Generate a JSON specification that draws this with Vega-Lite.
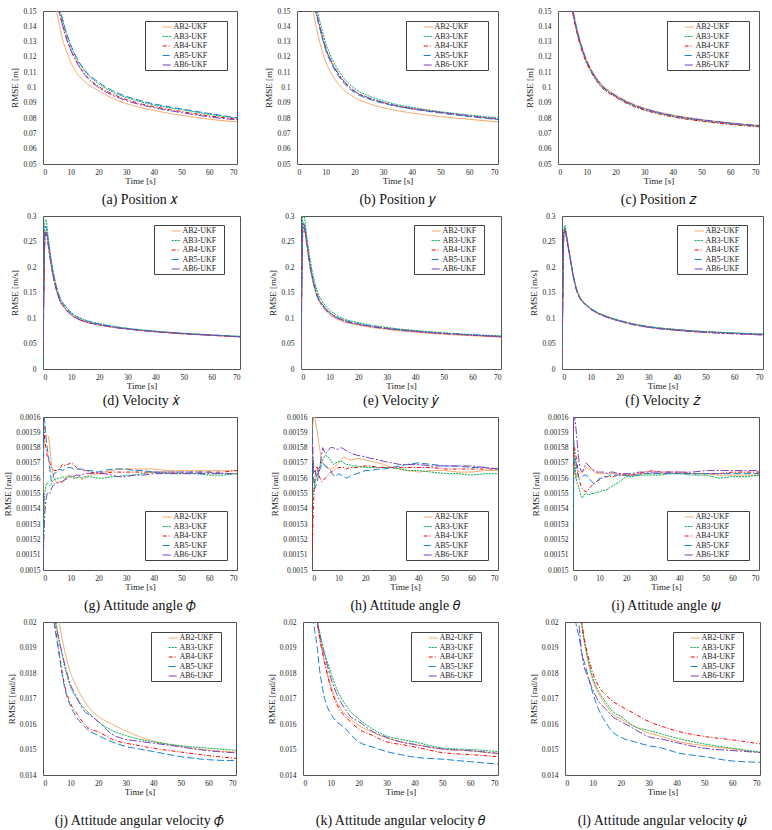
{
  "$schema": "https://vega.github.io/schema/vega-lite/v6.json",
  "padding": {"left": 3, "top": 6, "right": 2, "bottom": 0},
  "background": "white",
  "config": {
    "view": {"stroke": "#555555", "strokeWidth": 1},
    "axis": {"grid": false, "ticks": false, "domain": false, "labelFont": "Liberation Serif", "labelFontSize": 7.5, "labelColor": "#222222", "titleFont": "Liberation Serif", "titleFontSize": 9, "titleFontWeight": "normal", "titleColor": "#222222"},
    "axisX": {"labelPadding": 4, "titlePadding": 1},
    "axisY": {"labelPadding": 7, "titlePadding": 3},
    "legend": {"strokeColor": "#404040", "fillColor": "#ffffff", "padding": 1, "symbolType": "M-1,0M2.6,0L4.6,0", "symbolSize": 81, "symbolStrokeWidth": 1, "labelFont": "Liberation Serif", "labelFontSize": 8, "labelColor": "#222222", "rowPadding": 0.5, "labelOffset": 17.5, "cornerRadius": 0},
    "title": {"font": "Liberation Serif", "fontSize": 14, "fontWeight": "normal", "color": "#111111", "orient": "bottom", "frame": "group", "anchor": "middle"},
    "line": {"strokeWidth": 1}
  },
  "data": {"values": [
    {"p":"a","t":3,"AB2-UKF":0.172,"AB3-UKF":0.185,"AB4-UKF":0.18,"AB5-UKF":0.186,"AB6-UKF":0.179},
    {"p":"a","t":4,"AB2-UKF":0.16,"AB3-UKF":0.172,"AB4-UKF":0.168,"AB5-UKF":0.173,"AB6-UKF":0.167},
    {"p":"a","t":5,"AB2-UKF":0.149,"AB3-UKF":0.16,"AB4-UKF":0.157,"AB5-UKF":0.161,"AB6-UKF":0.156},
    {"p":"a","t":6,"AB2-UKF":0.14,"AB3-UKF":0.152,"AB4-UKF":0.149,"AB5-UKF":0.153,"AB6-UKF":0.148},
    {"p":"a","t":7,"AB2-UKF":0.132,"AB3-UKF":0.1445,"AB4-UKF":0.1415,"AB5-UKF":0.145,"AB6-UKF":0.141},
    {"p":"a","t":8,"AB2-UKF":0.126,"AB3-UKF":0.138,"AB4-UKF":0.135,"AB5-UKF":0.1385,"AB6-UKF":0.1345},
    {"p":"a","t":10,"AB2-UKF":0.1165,"AB3-UKF":0.1275,"AB4-UKF":0.125,"AB5-UKF":0.128,"AB6-UKF":0.1245},
    {"p":"a","t":12,"AB2-UKF":0.11,"AB3-UKF":0.1195,"AB4-UKF":0.1175,"AB5-UKF":0.12,"AB6-UKF":0.117},
    {"p":"a","t":15,"AB2-UKF":0.104,"AB3-UKF":0.111,"AB4-UKF":0.109,"AB5-UKF":0.1115,"AB6-UKF":0.1085},
    {"p":"a","t":20,"AB2-UKF":0.098,"AB3-UKF":0.1025,"AB4-UKF":0.1008,"AB5-UKF":0.1035,"AB6-UKF":0.1},
    {"p":"a","t":25,"AB2-UKF":0.093,"AB3-UKF":0.0972,"AB4-UKF":0.0958,"AB5-UKF":0.098,"AB6-UKF":0.095},
    {"p":"a","t":30,"AB2-UKF":0.0895,"AB3-UKF":0.0935,"AB4-UKF":0.0922,"AB5-UKF":0.0942,"AB6-UKF":0.0915},
    {"p":"a","t":35,"AB2-UKF":0.087,"AB3-UKF":0.0908,"AB4-UKF":0.0895,"AB5-UKF":0.0915,"AB6-UKF":0.0888},
    {"p":"a","t":40,"AB2-UKF":0.085,"AB3-UKF":0.0886,"AB4-UKF":0.0875,"AB5-UKF":0.0893,"AB6-UKF":0.0868},
    {"p":"a","t":50,"AB2-UKF":0.0818,"AB3-UKF":0.0855,"AB4-UKF":0.0843,"AB5-UKF":0.086,"AB6-UKF":0.0836},
    {"p":"a","t":60,"AB2-UKF":0.0793,"AB3-UKF":0.0825,"AB4-UKF":0.0815,"AB5-UKF":0.083,"AB6-UKF":0.0808},
    {"p":"a","t":70,"AB2-UKF":0.0775,"AB3-UKF":0.08,"AB4-UKF":0.0793,"AB5-UKF":0.0802,"AB6-UKF":0.0788},
    {"p":"b","t":3,"AB2-UKF":0.18,"AB3-UKF":0.2,"AB4-UKF":0.192,"AB5-UKF":0.191,"AB6-UKF":0.193},
    {"p":"b","t":4,"AB2-UKF":0.165,"AB3-UKF":0.185,"AB4-UKF":0.177,"AB5-UKF":0.176,"AB6-UKF":0.178},
    {"p":"b","t":5,"AB2-UKF":0.155,"AB3-UKF":0.172,"AB4-UKF":0.165,"AB5-UKF":0.164,"AB6-UKF":0.166},
    {"p":"b","t":6,"AB2-UKF":0.146,"AB3-UKF":0.161,"AB4-UKF":0.155,"AB5-UKF":0.154,"AB6-UKF":0.156},
    {"p":"b","t":7,"AB2-UKF":0.137,"AB3-UKF":0.151,"AB4-UKF":0.1465,"AB5-UKF":0.1455,"AB6-UKF":0.147},
    {"p":"b","t":8,"AB2-UKF":0.129,"AB3-UKF":0.143,"AB4-UKF":0.139,"AB5-UKF":0.138,"AB6-UKF":0.1395},
    {"p":"b","t":10,"AB2-UKF":0.117,"AB3-UKF":0.129,"AB4-UKF":0.1255,"AB5-UKF":0.1245,"AB6-UKF":0.126},
    {"p":"b","t":12,"AB2-UKF":0.109,"AB3-UKF":0.1195,"AB4-UKF":0.1165,"AB5-UKF":0.1155,"AB6-UKF":0.117},
    {"p":"b","t":15,"AB2-UKF":0.101,"AB3-UKF":0.1095,"AB4-UKF":0.107,"AB5-UKF":0.106,"AB6-UKF":0.1075},
    {"p":"b","t":20,"AB2-UKF":0.0935,"AB3-UKF":0.0995,"AB4-UKF":0.0975,"AB5-UKF":0.0968,"AB6-UKF":0.0978},
    {"p":"b","t":25,"AB2-UKF":0.0895,"AB3-UKF":0.0945,"AB4-UKF":0.093,"AB5-UKF":0.0925,"AB6-UKF":0.0933},
    {"p":"b","t":30,"AB2-UKF":0.0868,"AB3-UKF":0.0912,"AB4-UKF":0.09,"AB5-UKF":0.0897,"AB6-UKF":0.0903},
    {"p":"b","t":35,"AB2-UKF":0.0848,"AB3-UKF":0.0888,"AB4-UKF":0.0878,"AB5-UKF":0.0876,"AB6-UKF":0.088},
    {"p":"b","t":40,"AB2-UKF":0.0833,"AB3-UKF":0.087,"AB4-UKF":0.0862,"AB5-UKF":0.086,"AB6-UKF":0.0864},
    {"p":"b","t":50,"AB2-UKF":0.081,"AB3-UKF":0.0842,"AB4-UKF":0.0836,"AB5-UKF":0.0833,"AB6-UKF":0.0838},
    {"p":"b","t":60,"AB2-UKF":0.0792,"AB3-UKF":0.082,"AB4-UKF":0.0813,"AB5-UKF":0.081,"AB6-UKF":0.0815},
    {"p":"b","t":70,"AB2-UKF":0.0775,"AB3-UKF":0.0802,"AB4-UKF":0.0793,"AB5-UKF":0.079,"AB6-UKF":0.0796},
    {"p":"c","t":3,"AB2-UKF":0.182,"AB3-UKF":0.179,"AB4-UKF":0.178,"AB5-UKF":0.181,"AB6-UKF":0.18},
    {"p":"c","t":4,"AB2-UKF":0.166,"AB3-UKF":0.163,"AB4-UKF":0.162,"AB5-UKF":0.165,"AB6-UKF":0.164},
    {"p":"c","t":5,"AB2-UKF":0.154,"AB3-UKF":0.151,"AB4-UKF":0.15,"AB5-UKF":0.153,"AB6-UKF":0.152},
    {"p":"c","t":6,"AB2-UKF":0.1435,"AB3-UKF":0.1412,"AB4-UKF":0.1405,"AB5-UKF":0.143,"AB6-UKF":0.142},
    {"p":"c","t":7,"AB2-UKF":0.1355,"AB3-UKF":0.1332,"AB4-UKF":0.1325,"AB5-UKF":0.135,"AB6-UKF":0.134},
    {"p":"c","t":8,"AB2-UKF":0.129,"AB3-UKF":0.1268,"AB4-UKF":0.126,"AB5-UKF":0.1282,"AB6-UKF":0.1275},
    {"p":"c","t":10,"AB2-UKF":0.118,"AB3-UKF":0.1163,"AB4-UKF":0.1158,"AB5-UKF":0.1175,"AB6-UKF":0.117},
    {"p":"c","t":12,"AB2-UKF":0.1105,"AB3-UKF":0.1088,"AB4-UKF":0.1085,"AB5-UKF":0.11,"AB6-UKF":0.1095},
    {"p":"c","t":15,"AB2-UKF":0.1025,"AB3-UKF":0.1008,"AB4-UKF":0.1005,"AB5-UKF":0.102,"AB6-UKF":0.1015},
    {"p":"c","t":20,"AB2-UKF":0.0953,"AB3-UKF":0.094,"AB4-UKF":0.0938,"AB5-UKF":0.0948,"AB6-UKF":0.0945},
    {"p":"c","t":25,"AB2-UKF":0.0902,"AB3-UKF":0.089,"AB4-UKF":0.0888,"AB5-UKF":0.0898,"AB6-UKF":0.0895},
    {"p":"c","t":30,"AB2-UKF":0.0866,"AB3-UKF":0.0855,"AB4-UKF":0.0853,"AB5-UKF":0.0862,"AB6-UKF":0.086},
    {"p":"c","t":35,"AB2-UKF":0.084,"AB3-UKF":0.083,"AB4-UKF":0.0828,"AB5-UKF":0.0837,"AB6-UKF":0.0835},
    {"p":"c","t":40,"AB2-UKF":0.082,"AB3-UKF":0.081,"AB4-UKF":0.0808,"AB5-UKF":0.0817,"AB6-UKF":0.0815},
    {"p":"c","t":50,"AB2-UKF":0.0791,"AB3-UKF":0.0782,"AB4-UKF":0.078,"AB5-UKF":0.0789,"AB6-UKF":0.0787},
    {"p":"c","t":60,"AB2-UKF":0.0769,"AB3-UKF":0.0761,"AB4-UKF":0.0759,"AB5-UKF":0.0767,"AB6-UKF":0.0766},
    {"p":"c","t":70,"AB2-UKF":0.0753,"AB3-UKF":0.0745,"AB4-UKF":0.0743,"AB5-UKF":0.0751,"AB6-UKF":0.0749},
    {"p":"d","t":0,"AB2-UKF":0.05,"AB3-UKF":0,"AB4-UKF":0.03,"AB5-UKF":0.06,"AB6-UKF":0.04},
    {"p":"d","t":0.3,"AB2-UKF":0.16,"AB3-UKF":0.18,"AB4-UKF":0.14,"AB5-UKF":0.17,"AB6-UKF":0.13},
    {"p":"d","t":0.6,"AB2-UKF":0.255,"AB3-UKF":0.285,"AB4-UKF":0.245,"AB5-UKF":0.26,"AB6-UKF":0.24},
    {"p":"d","t":1,"AB2-UKF":0.27,"AB3-UKF":0.293,"AB4-UKF":0.272,"AB5-UKF":0.28,"AB6-UKF":0.268},
    {"p":"d","t":1.5,"AB2-UKF":0.258,"AB3-UKF":0.275,"AB4-UKF":0.26,"AB5-UKF":0.265,"AB6-UKF":0.256},
    {"p":"d","t":2,"AB2-UKF":0.238,"AB3-UKF":0.252,"AB4-UKF":0.24,"AB5-UKF":0.245,"AB6-UKF":0.236},
    {"p":"d","t":3,"AB2-UKF":0.2,"AB3-UKF":0.212,"AB4-UKF":0.203,"AB5-UKF":0.207,"AB6-UKF":0.2},
    {"p":"d","t":4,"AB2-UKF":0.172,"AB3-UKF":0.182,"AB4-UKF":0.174,"AB5-UKF":0.178,"AB6-UKF":0.172},
    {"p":"d","t":5,"AB2-UKF":0.15,"AB3-UKF":0.158,"AB4-UKF":0.151,"AB5-UKF":0.155,"AB6-UKF":0.15},
    {"p":"d","t":6,"AB2-UKF":0.134,"AB3-UKF":0.141,"AB4-UKF":0.135,"AB5-UKF":0.139,"AB6-UKF":0.134},
    {"p":"d","t":8,"AB2-UKF":0.1175,"AB3-UKF":0.1235,"AB4-UKF":0.1185,"AB5-UKF":0.1215,"AB6-UKF":0.1178},
    {"p":"d","t":10,"AB2-UKF":0.1058,"AB3-UKF":0.111,"AB4-UKF":0.1065,"AB5-UKF":0.109,"AB6-UKF":0.106},
    {"p":"d","t":12,"AB2-UKF":0.099,"AB3-UKF":0.1035,"AB4-UKF":0.0995,"AB5-UKF":0.102,"AB6-UKF":0.099},
    {"p":"d","t":15,"AB2-UKF":0.0925,"AB3-UKF":0.096,"AB4-UKF":0.093,"AB5-UKF":0.095,"AB6-UKF":0.0925},
    {"p":"d","t":20,"AB2-UKF":0.0862,"AB3-UKF":0.0892,"AB4-UKF":0.0868,"AB5-UKF":0.088,"AB6-UKF":0.0865},
    {"p":"d","t":25,"AB2-UKF":0.0815,"AB3-UKF":0.0838,"AB4-UKF":0.082,"AB5-UKF":0.083,"AB6-UKF":0.0818},
    {"p":"d","t":30,"AB2-UKF":0.0782,"AB3-UKF":0.08,"AB4-UKF":0.0786,"AB5-UKF":0.0793,"AB6-UKF":0.0784},
    {"p":"d","t":40,"AB2-UKF":0.0728,"AB3-UKF":0.0742,"AB4-UKF":0.0732,"AB5-UKF":0.0738,"AB6-UKF":0.073},
    {"p":"d","t":50,"AB2-UKF":0.0688,"AB3-UKF":0.07,"AB4-UKF":0.0692,"AB5-UKF":0.0698,"AB6-UKF":0.069},
    {"p":"d","t":60,"AB2-UKF":0.0658,"AB3-UKF":0.067,"AB4-UKF":0.0662,"AB5-UKF":0.0667,"AB6-UKF":0.066},
    {"p":"d","t":70,"AB2-UKF":0.0628,"AB3-UKF":0.064,"AB4-UKF":0.0632,"AB5-UKF":0.0637,"AB6-UKF":0.063},
    {"p":"e","t":0,"AB2-UKF":0,"AB3-UKF":0,"AB4-UKF":0,"AB5-UKF":0,"AB6-UKF":0},
    {"p":"e","t":0.3,"AB2-UKF":0.17,"AB3-UKF":0.2,"AB4-UKF":0.18,"AB5-UKF":0.19,"AB6-UKF":0.16},
    {"p":"e","t":0.6,"AB2-UKF":0.27,"AB3-UKF":0.3,"AB4-UKF":0.275,"AB5-UKF":0.28,"AB6-UKF":0.26},
    {"p":"e","t":1,"AB2-UKF":0.28,"AB3-UKF":0.302,"AB4-UKF":0.285,"AB5-UKF":0.288,"AB6-UKF":0.278},
    {"p":"e","t":1.5,"AB2-UKF":0.266,"AB3-UKF":0.285,"AB4-UKF":0.27,"AB5-UKF":0.272,"AB6-UKF":0.265},
    {"p":"e","t":2,"AB2-UKF":0.245,"AB3-UKF":0.262,"AB4-UKF":0.25,"AB5-UKF":0.251,"AB6-UKF":0.245},
    {"p":"e","t":3,"AB2-UKF":0.205,"AB3-UKF":0.222,"AB4-UKF":0.21,"AB5-UKF":0.211,"AB6-UKF":0.206},
    {"p":"e","t":4,"AB2-UKF":0.175,"AB3-UKF":0.19,"AB4-UKF":0.18,"AB5-UKF":0.181,"AB6-UKF":0.177},
    {"p":"e","t":5,"AB2-UKF":0.152,"AB3-UKF":0.166,"AB4-UKF":0.157,"AB5-UKF":0.158,"AB6-UKF":0.154},
    {"p":"e","t":6,"AB2-UKF":0.136,"AB3-UKF":0.148,"AB4-UKF":0.14,"AB5-UKF":0.141,"AB6-UKF":0.138},
    {"p":"e","t":8,"AB2-UKF":0.119,"AB3-UKF":0.1285,"AB4-UKF":0.1225,"AB5-UKF":0.1232,"AB6-UKF":0.121},
    {"p":"e","t":10,"AB2-UKF":0.107,"AB3-UKF":0.1155,"AB4-UKF":0.1105,"AB5-UKF":0.111,"AB6-UKF":0.109},
    {"p":"e","t":12,"AB2-UKF":0.0995,"AB3-UKF":0.107,"AB4-UKF":0.103,"AB5-UKF":0.1033,"AB6-UKF":0.1015},
    {"p":"e","t":15,"AB2-UKF":0.0925,"AB3-UKF":0.0985,"AB4-UKF":0.0955,"AB5-UKF":0.0958,"AB6-UKF":0.094},
    {"p":"e","t":20,"AB2-UKF":0.086,"AB3-UKF":0.091,"AB4-UKF":0.0885,"AB5-UKF":0.0888,"AB6-UKF":0.0875},
    {"p":"e","t":25,"AB2-UKF":0.0812,"AB3-UKF":0.0855,"AB4-UKF":0.0835,"AB5-UKF":0.0838,"AB6-UKF":0.0826},
    {"p":"e","t":30,"AB2-UKF":0.0778,"AB3-UKF":0.0815,"AB4-UKF":0.0798,"AB5-UKF":0.08,"AB6-UKF":0.079},
    {"p":"e","t":40,"AB2-UKF":0.0722,"AB3-UKF":0.0755,"AB4-UKF":0.074,"AB5-UKF":0.0743,"AB6-UKF":0.0735},
    {"p":"e","t":50,"AB2-UKF":0.0682,"AB3-UKF":0.071,"AB4-UKF":0.0698,"AB5-UKF":0.0702,"AB6-UKF":0.0694},
    {"p":"e","t":60,"AB2-UKF":0.0652,"AB3-UKF":0.0675,"AB4-UKF":0.0665,"AB5-UKF":0.0668,"AB6-UKF":0.0662},
    {"p":"e","t":70,"AB2-UKF":0.0622,"AB3-UKF":0.0648,"AB4-UKF":0.0638,"AB5-UKF":0.064,"AB6-UKF":0.0633},
    {"p":"f","t":0,"AB2-UKF":0,"AB3-UKF":0,"AB4-UKF":0,"AB5-UKF":0,"AB6-UKF":0},
    {"p":"f","t":0.3,"AB2-UKF":0.15,"AB3-UKF":0.16,"AB4-UKF":0.145,"AB5-UKF":0.152,"AB6-UKF":0.14},
    {"p":"f","t":0.6,"AB2-UKF":0.262,"AB3-UKF":0.268,"AB4-UKF":0.258,"AB5-UKF":0.262,"AB6-UKF":0.255},
    {"p":"f","t":1,"AB2-UKF":0.276,"AB3-UKF":0.282,"AB4-UKF":0.274,"AB5-UKF":0.277,"AB6-UKF":0.273},
    {"p":"f","t":1.5,"AB2-UKF":0.263,"AB3-UKF":0.267,"AB4-UKF":0.261,"AB5-UKF":0.263,"AB6-UKF":0.26},
    {"p":"f","t":2,"AB2-UKF":0.246,"AB3-UKF":0.249,"AB4-UKF":0.244,"AB5-UKF":0.246,"AB6-UKF":0.243},
    {"p":"f","t":3,"AB2-UKF":0.213,"AB3-UKF":0.215,"AB4-UKF":0.211,"AB5-UKF":0.213,"AB6-UKF":0.21},
    {"p":"f","t":4,"AB2-UKF":0.181,"AB3-UKF":0.183,"AB4-UKF":0.179,"AB5-UKF":0.181,"AB6-UKF":0.178},
    {"p":"f","t":5,"AB2-UKF":0.158,"AB3-UKF":0.159,"AB4-UKF":0.156,"AB5-UKF":0.157,"AB6-UKF":0.155},
    {"p":"f","t":6,"AB2-UKF":0.143,"AB3-UKF":0.144,"AB4-UKF":0.1415,"AB5-UKF":0.142,"AB6-UKF":0.141},
    {"p":"f","t":8,"AB2-UKF":0.1283,"AB3-UKF":0.1285,"AB4-UKF":0.127,"AB5-UKF":0.1278,"AB6-UKF":0.1268},
    {"p":"f","t":10,"AB2-UKF":0.1188,"AB3-UKF":0.119,"AB4-UKF":0.1175,"AB5-UKF":0.1183,"AB6-UKF":0.1172},
    {"p":"f","t":12,"AB2-UKF":0.1118,"AB3-UKF":0.112,"AB4-UKF":0.1105,"AB5-UKF":0.1113,"AB6-UKF":0.1102},
    {"p":"f","t":15,"AB2-UKF":0.1043,"AB3-UKF":0.1045,"AB4-UKF":0.103,"AB5-UKF":0.1038,"AB6-UKF":0.1027},
    {"p":"f","t":20,"AB2-UKF":0.0953,"AB3-UKF":0.0955,"AB4-UKF":0.094,"AB5-UKF":0.0948,"AB6-UKF":0.0937},
    {"p":"f","t":25,"AB2-UKF":0.0883,"AB3-UKF":0.0885,"AB4-UKF":0.087,"AB5-UKF":0.0878,"AB6-UKF":0.0867},
    {"p":"f","t":30,"AB2-UKF":0.0833,"AB3-UKF":0.0835,"AB4-UKF":0.082,"AB5-UKF":0.0828,"AB6-UKF":0.0817},
    {"p":"f","t":40,"AB2-UKF":0.0773,"AB3-UKF":0.0775,"AB4-UKF":0.076,"AB5-UKF":0.0768,"AB6-UKF":0.0757},
    {"p":"f","t":50,"AB2-UKF":0.0733,"AB3-UKF":0.0735,"AB4-UKF":0.072,"AB5-UKF":0.0728,"AB6-UKF":0.0717},
    {"p":"f","t":60,"AB2-UKF":0.0706,"AB3-UKF":0.0708,"AB4-UKF":0.0693,"AB5-UKF":0.0701,"AB6-UKF":0.069},
    {"p":"f","t":70,"AB2-UKF":0.0683,"AB3-UKF":0.0685,"AB4-UKF":0.067,"AB5-UKF":0.0678,"AB6-UKF":0.0667},
    {"p":"g","t":0,"AB2-UKF":0.00155,"AB3-UKF":0.00151,"AB4-UKF":0.0016,"AB5-UKF":0.00156,"AB6-UKF":0.0015},
    {"p":"g","t":0.3,"AB2-UKF":0.00158,"AB3-UKF":0.001535,"AB4-UKF":0.001595,"AB5-UKF":0.0016,"AB6-UKF":0.00152},
    {"p":"g","t":0.6,"AB2-UKF":0.001586,"AB3-UKF":0.00155,"AB4-UKF":0.001585,"AB5-UKF":0.001598,"AB6-UKF":0.001535},
    {"p":"g","t":1,"AB2-UKF":0.001588,"AB3-UKF":0.001555,"AB4-UKF":0.00158,"AB5-UKF":0.001588,"AB6-UKF":0.001545},
    {"p":"g","t":1.5,"AB2-UKF":0.001588,"AB3-UKF":0.001557,"AB4-UKF":0.001575,"AB5-UKF":0.00158,"AB6-UKF":0.00155},
    {"p":"g","t":2,"AB2-UKF":0.001587,"AB3-UKF":0.001556,"AB4-UKF":0.001572,"AB5-UKF":0.001574,"AB6-UKF":0.001551},
    {"p":"g","t":2.5,"AB2-UKF":0.00158,"AB3-UKF":0.001555,"AB4-UKF":0.00157,"AB5-UKF":0.001566,"AB6-UKF":0.00155},
    {"p":"g","t":3,"AB2-UKF":0.00157,"AB3-UKF":0.001556,"AB4-UKF":0.001567,"AB5-UKF":0.001558,"AB6-UKF":0.001553},
    {"p":"g","t":3.5,"AB2-UKF":0.001563,"AB3-UKF":0.001558,"AB4-UKF":0.001566,"AB5-UKF":0.00156,"AB6-UKF":0.001555},
    {"p":"g","t":4,"AB2-UKF":0.00156,"AB3-UKF":0.001559,"AB4-UKF":0.001565,"AB5-UKF":0.001563,"AB6-UKF":0.001556},
    {"p":"g","t":5,"AB2-UKF":0.001557,"AB3-UKF":0.00156,"AB4-UKF":0.001565,"AB5-UKF":0.001564,"AB6-UKF":0.001557},
    {"p":"g","t":6,"AB2-UKF":0.001558,"AB3-UKF":0.00156,"AB4-UKF":0.001566,"AB5-UKF":0.001566,"AB6-UKF":0.001557},
    {"p":"g","t":7,"AB2-UKF":0.001557,"AB3-UKF":0.001561,"AB4-UKF":0.001569,"AB5-UKF":0.001565,"AB6-UKF":0.001558},
    {"p":"g","t":8,"AB2-UKF":0.00156,"AB3-UKF":0.00156,"AB4-UKF":0.001568,"AB5-UKF":0.001566,"AB6-UKF":0.001559},
    {"p":"g","t":9,"AB2-UKF":0.001562,"AB3-UKF":0.001561,"AB4-UKF":0.001569,"AB5-UKF":0.001567,"AB6-UKF":0.00156},
    {"p":"g","t":10,"AB2-UKF":0.001562,"AB3-UKF":0.001561,"AB4-UKF":0.00157,"AB5-UKF":0.001567,"AB6-UKF":0.001561},
    {"p":"g","t":11,"AB2-UKF":0.001561,"AB3-UKF":0.00156,"AB4-UKF":0.001569,"AB5-UKF":0.001566,"AB6-UKF":0.001561},
    {"p":"g","t":12,"AB2-UKF":0.00156,"AB3-UKF":0.00156,"AB4-UKF":0.001567,"AB5-UKF":0.001566,"AB6-UKF":0.001562},
    {"p":"g","t":13,"AB2-UKF":0.001561,"AB3-UKF":0.001561,"AB4-UKF":0.001566,"AB5-UKF":0.001566,"AB6-UKF":0.001562},
    {"p":"g","t":14,"AB2-UKF":0.001559,"AB3-UKF":0.00156,"AB4-UKF":0.001566,"AB5-UKF":0.001566,"AB6-UKF":0.001562},
    {"p":"g","t":15,"AB2-UKF":0.00156,"AB3-UKF":0.001561,"AB4-UKF":0.001565,"AB5-UKF":0.001565,"AB6-UKF":0.001563},
    {"p":"g","t":17,"AB2-UKF":0.001562,"AB3-UKF":0.001561,"AB4-UKF":0.001564,"AB5-UKF":0.001565,"AB6-UKF":0.001563},
    {"p":"g","t":20,"AB2-UKF":0.001563,"AB3-UKF":0.00156,"AB4-UKF":0.001563,"AB5-UKF":0.001564,"AB6-UKF":0.001564},
    {"p":"g","t":22,"AB2-UKF":0.001564,"AB3-UKF":0.00156,"AB4-UKF":0.001563,"AB5-UKF":0.001565,"AB6-UKF":0.001563},
    {"p":"g","t":25,"AB2-UKF":0.001565,"AB3-UKF":0.001561,"AB4-UKF":0.001564,"AB5-UKF":0.001566,"AB6-UKF":0.001562},
    {"p":"g","t":27,"AB2-UKF":0.001566,"AB3-UKF":0.001561,"AB4-UKF":0.001564,"AB5-UKF":0.001566,"AB6-UKF":0.001561},
    {"p":"g","t":30,"AB2-UKF":0.001566,"AB3-UKF":0.001562,"AB4-UKF":0.001564,"AB5-UKF":0.001566,"AB6-UKF":0.001561},
    {"p":"g","t":33,"AB2-UKF":0.001566,"AB3-UKF":0.001562,"AB4-UKF":0.001564,"AB5-UKF":0.001565,"AB6-UKF":0.001562},
    {"p":"g","t":36,"AB2-UKF":0.001566,"AB3-UKF":0.001563,"AB4-UKF":0.001564,"AB5-UKF":0.001565,"AB6-UKF":0.001562},
    {"p":"g","t":40,"AB2-UKF":0.001566,"AB3-UKF":0.001564,"AB4-UKF":0.001564,"AB5-UKF":0.001564,"AB6-UKF":0.001563},
    {"p":"g","t":45,"AB2-UKF":0.001565,"AB3-UKF":0.001563,"AB4-UKF":0.001564,"AB5-UKF":0.001564,"AB6-UKF":0.001563},
    {"p":"g","t":50,"AB2-UKF":0.001565,"AB3-UKF":0.001563,"AB4-UKF":0.001564,"AB5-UKF":0.001564,"AB6-UKF":0.001563},
    {"p":"g","t":55,"AB2-UKF":0.001565,"AB3-UKF":0.001563,"AB4-UKF":0.001564,"AB5-UKF":0.001564,"AB6-UKF":0.001563},
    {"p":"g","t":60,"AB2-UKF":0.001565,"AB3-UKF":0.001562,"AB4-UKF":0.001564,"AB5-UKF":0.001564,"AB6-UKF":0.001563},
    {"p":"g","t":65,"AB2-UKF":0.001565,"AB3-UKF":0.001562,"AB4-UKF":0.001564,"AB5-UKF":0.001563,"AB6-UKF":0.001563},
    {"p":"g","t":70,"AB2-UKF":0.001565,"AB3-UKF":0.001563,"AB4-UKF":0.001565,"AB5-UKF":0.001563,"AB6-UKF":0.001563},
    {"p":"h","t":0,"AB2-UKF":0.00157,"AB3-UKF":0.001545,"AB4-UKF":0.00151,"AB5-UKF":0.0016,"AB6-UKF":0.00159},
    {"p":"h","t":0.3,"AB2-UKF":0.001595,"AB3-UKF":0.001548,"AB4-UKF":0.001525,"AB5-UKF":0.00158,"AB6-UKF":0.001575},
    {"p":"h","t":0.6,"AB2-UKF":0.0016,"AB3-UKF":0.001552,"AB4-UKF":0.001545,"AB5-UKF":0.00156,"AB6-UKF":0.001566},
    {"p":"h","t":1,"AB2-UKF":0.0016,"AB3-UKF":0.001555,"AB4-UKF":0.001558,"AB5-UKF":0.001553,"AB6-UKF":0.001564},
    {"p":"h","t":1.5,"AB2-UKF":0.001595,"AB3-UKF":0.00156,"AB4-UKF":0.001566,"AB5-UKF":0.001555,"AB6-UKF":0.001562},
    {"p":"h","t":2,"AB2-UKF":0.00159,"AB3-UKF":0.001564,"AB4-UKF":0.001568,"AB5-UKF":0.001558,"AB6-UKF":0.001562},
    {"p":"h","t":2.5,"AB2-UKF":0.001584,"AB3-UKF":0.001566,"AB4-UKF":0.001563,"AB5-UKF":0.001563,"AB6-UKF":0.001564},
    {"p":"h","t":3,"AB2-UKF":0.001578,"AB3-UKF":0.001568,"AB4-UKF":0.00156,"AB5-UKF":0.001566,"AB6-UKF":0.001568},
    {"p":"h","t":3.5,"AB2-UKF":0.001572,"AB3-UKF":0.00157,"AB4-UKF":0.001558,"AB5-UKF":0.001568,"AB6-UKF":0.001574},
    {"p":"h","t":4,"AB2-UKF":0.00157,"AB3-UKF":0.001572,"AB4-UKF":0.001558,"AB5-UKF":0.00157,"AB6-UKF":0.00158},
    {"p":"h","t":5,"AB2-UKF":0.001568,"AB3-UKF":0.001575,"AB4-UKF":0.00156,"AB5-UKF":0.001568,"AB6-UKF":0.001576},
    {"p":"h","t":6,"AB2-UKF":0.001566,"AB3-UKF":0.001574,"AB4-UKF":0.001562,"AB5-UKF":0.001567,"AB6-UKF":0.001578},
    {"p":"h","t":7,"AB2-UKF":0.001566,"AB3-UKF":0.001572,"AB4-UKF":0.001564,"AB5-UKF":0.001565,"AB6-UKF":0.00158},
    {"p":"h","t":8,"AB2-UKF":0.001567,"AB3-UKF":0.001569,"AB4-UKF":0.001565,"AB5-UKF":0.001562,"AB6-UKF":0.00158},
    {"p":"h","t":9,"AB2-UKF":0.001568,"AB3-UKF":0.00157,"AB4-UKF":0.001566,"AB5-UKF":0.001561,"AB6-UKF":0.001579},
    {"p":"h","t":10,"AB2-UKF":0.00157,"AB3-UKF":0.001571,"AB4-UKF":0.001567,"AB5-UKF":0.001563,"AB6-UKF":0.001579},
    {"p":"h","t":11,"AB2-UKF":0.001572,"AB3-UKF":0.001571,"AB4-UKF":0.001567,"AB5-UKF":0.001562,"AB6-UKF":0.00158},
    {"p":"h","t":12,"AB2-UKF":0.001574,"AB3-UKF":0.00157,"AB4-UKF":0.001567,"AB5-UKF":0.001561,"AB6-UKF":0.001579},
    {"p":"h","t":13,"AB2-UKF":0.001573,"AB3-UKF":0.001569,"AB4-UKF":0.001566,"AB5-UKF":0.00156,"AB6-UKF":0.001578},
    {"p":"h","t":14,"AB2-UKF":0.001572,"AB3-UKF":0.001569,"AB4-UKF":0.001567,"AB5-UKF":0.001561,"AB6-UKF":0.001577},
    {"p":"h","t":15,"AB2-UKF":0.001572,"AB3-UKF":0.001568,"AB4-UKF":0.001567,"AB5-UKF":0.001562,"AB6-UKF":0.001576},
    {"p":"h","t":17,"AB2-UKF":0.001573,"AB3-UKF":0.001568,"AB4-UKF":0.001567,"AB5-UKF":0.001563,"AB6-UKF":0.001575},
    {"p":"h","t":20,"AB2-UKF":0.001572,"AB3-UKF":0.001567,"AB4-UKF":0.001568,"AB5-UKF":0.001565,"AB6-UKF":0.001574},
    {"p":"h","t":22,"AB2-UKF":0.001571,"AB3-UKF":0.001567,"AB4-UKF":0.001568,"AB5-UKF":0.001565,"AB6-UKF":0.001573},
    {"p":"h","t":25,"AB2-UKF":0.00157,"AB3-UKF":0.001567,"AB4-UKF":0.001567,"AB5-UKF":0.001566,"AB6-UKF":0.001572},
    {"p":"h","t":27,"AB2-UKF":0.001569,"AB3-UKF":0.001567,"AB4-UKF":0.001567,"AB5-UKF":0.001566,"AB6-UKF":0.001571},
    {"p":"h","t":30,"AB2-UKF":0.001567,"AB3-UKF":0.001567,"AB4-UKF":0.001567,"AB5-UKF":0.001567,"AB6-UKF":0.00157},
    {"p":"h","t":33,"AB2-UKF":0.001566,"AB3-UKF":0.001566,"AB4-UKF":0.001567,"AB5-UKF":0.001568,"AB6-UKF":0.001569},
    {"p":"h","t":36,"AB2-UKF":0.001565,"AB3-UKF":0.001565,"AB4-UKF":0.001567,"AB5-UKF":0.001569,"AB6-UKF":0.001569},
    {"p":"h","t":40,"AB2-UKF":0.001564,"AB3-UKF":0.001565,"AB4-UKF":0.001567,"AB5-UKF":0.00157,"AB6-UKF":0.001569},
    {"p":"h","t":45,"AB2-UKF":0.001565,"AB3-UKF":0.001564,"AB4-UKF":0.001567,"AB5-UKF":0.001569,"AB6-UKF":0.001568},
    {"p":"h","t":50,"AB2-UKF":0.001565,"AB3-UKF":0.001563,"AB4-UKF":0.001566,"AB5-UKF":0.001568,"AB6-UKF":0.001568},
    {"p":"h","t":55,"AB2-UKF":0.001564,"AB3-UKF":0.001563,"AB4-UKF":0.001566,"AB5-UKF":0.001568,"AB6-UKF":0.001568},
    {"p":"h","t":60,"AB2-UKF":0.001564,"AB3-UKF":0.001562,"AB4-UKF":0.001566,"AB5-UKF":0.001567,"AB6-UKF":0.001568},
    {"p":"h","t":65,"AB2-UKF":0.001565,"AB3-UKF":0.001563,"AB4-UKF":0.001566,"AB5-UKF":0.001567,"AB6-UKF":0.001567},
    {"p":"h","t":70,"AB2-UKF":0.001565,"AB3-UKF":0.001563,"AB4-UKF":0.001566,"AB5-UKF":0.001566,"AB6-UKF":0.001566},
    {"p":"i","t":0,"AB2-UKF":0.001555,"AB3-UKF":0.00154,"AB4-UKF":0.00155,"AB5-UKF":0.00153,"AB6-UKF":0.00157},
    {"p":"i","t":0.3,"AB2-UKF":0.001575,"AB3-UKF":0.001585,"AB4-UKF":0.001578,"AB5-UKF":0.00156,"AB6-UKF":0.0016},
    {"p":"i","t":0.6,"AB2-UKF":0.00157,"AB3-UKF":0.001575,"AB4-UKF":0.00158,"AB5-UKF":0.00157,"AB6-UKF":0.0016},
    {"p":"i","t":1,"AB2-UKF":0.00156,"AB3-UKF":0.001562,"AB4-UKF":0.001576,"AB5-UKF":0.001573,"AB6-UKF":0.001595},
    {"p":"i","t":1.5,"AB2-UKF":0.001563,"AB3-UKF":0.001557,"AB4-UKF":0.00157,"AB5-UKF":0.001566,"AB6-UKF":0.001585},
    {"p":"i","t":2,"AB2-UKF":0.001565,"AB3-UKF":0.001555,"AB4-UKF":0.001562,"AB5-UKF":0.001561,"AB6-UKF":0.001575},
    {"p":"i","t":2.5,"AB2-UKF":0.001564,"AB3-UKF":0.001552,"AB4-UKF":0.001558,"AB5-UKF":0.00156,"AB6-UKF":0.001568},
    {"p":"i","t":3,"AB2-UKF":0.001563,"AB3-UKF":0.001548,"AB4-UKF":0.001555,"AB5-UKF":0.00156,"AB6-UKF":0.001565},
    {"p":"i","t":3.5,"AB2-UKF":0.001564,"AB3-UKF":0.001547,"AB4-UKF":0.001553,"AB5-UKF":0.001561,"AB6-UKF":0.001564},
    {"p":"i","t":4,"AB2-UKF":0.001565,"AB3-UKF":0.001549,"AB4-UKF":0.001552,"AB5-UKF":0.001562,"AB6-UKF":0.001566},
    {"p":"i","t":5,"AB2-UKF":0.001567,"AB3-UKF":0.00155,"AB4-UKF":0.001551,"AB5-UKF":0.001562,"AB6-UKF":0.00157},
    {"p":"i","t":6,"AB2-UKF":0.001566,"AB3-UKF":0.001549,"AB4-UKF":0.001553,"AB5-UKF":0.00156,"AB6-UKF":0.001568},
    {"p":"i","t":7,"AB2-UKF":0.001566,"AB3-UKF":0.00155,"AB4-UKF":0.001555,"AB5-UKF":0.001558,"AB6-UKF":0.001566},
    {"p":"i","t":8,"AB2-UKF":0.001564,"AB3-UKF":0.00155,"AB4-UKF":0.001557,"AB5-UKF":0.001556,"AB6-UKF":0.001565},
    {"p":"i","t":9,"AB2-UKF":0.001563,"AB3-UKF":0.001551,"AB4-UKF":0.001558,"AB5-UKF":0.001558,"AB6-UKF":0.001564},
    {"p":"i","t":10,"AB2-UKF":0.001563,"AB3-UKF":0.001551,"AB4-UKF":0.001559,"AB5-UKF":0.00156,"AB6-UKF":0.001564},
    {"p":"i","t":11,"AB2-UKF":0.001563,"AB3-UKF":0.001552,"AB4-UKF":0.00156,"AB5-UKF":0.00156,"AB6-UKF":0.001564},
    {"p":"i","t":12,"AB2-UKF":0.001563,"AB3-UKF":0.001552,"AB4-UKF":0.001561,"AB5-UKF":0.001561,"AB6-UKF":0.001564},
    {"p":"i","t":13,"AB2-UKF":0.001563,"AB3-UKF":0.001553,"AB4-UKF":0.001561,"AB5-UKF":0.001561,"AB6-UKF":0.001563},
    {"p":"i","t":14,"AB2-UKF":0.001563,"AB3-UKF":0.001554,"AB4-UKF":0.001561,"AB5-UKF":0.001562,"AB6-UKF":0.001564},
    {"p":"i","t":15,"AB2-UKF":0.001563,"AB3-UKF":0.001555,"AB4-UKF":0.001561,"AB5-UKF":0.001562,"AB6-UKF":0.001564},
    {"p":"i","t":17,"AB2-UKF":0.001563,"AB3-UKF":0.001557,"AB4-UKF":0.001562,"AB5-UKF":0.001562,"AB6-UKF":0.001563},
    {"p":"i","t":20,"AB2-UKF":0.001562,"AB3-UKF":0.001561,"AB4-UKF":0.001562,"AB5-UKF":0.001562,"AB6-UKF":0.001563},
    {"p":"i","t":22,"AB2-UKF":0.001562,"AB3-UKF":0.001561,"AB4-UKF":0.001562,"AB5-UKF":0.001562,"AB6-UKF":0.001563},
    {"p":"i","t":25,"AB2-UKF":0.001563,"AB3-UKF":0.001562,"AB4-UKF":0.001563,"AB5-UKF":0.001562,"AB6-UKF":0.001564},
    {"p":"i","t":27,"AB2-UKF":0.001563,"AB3-UKF":0.001562,"AB4-UKF":0.001564,"AB5-UKF":0.001563,"AB6-UKF":0.001564},
    {"p":"i","t":30,"AB2-UKF":0.001563,"AB3-UKF":0.001562,"AB4-UKF":0.001565,"AB5-UKF":0.001563,"AB6-UKF":0.001564},
    {"p":"i","t":33,"AB2-UKF":0.001563,"AB3-UKF":0.001562,"AB4-UKF":0.001564,"AB5-UKF":0.001563,"AB6-UKF":0.001564},
    {"p":"i","t":36,"AB2-UKF":0.001563,"AB3-UKF":0.001563,"AB4-UKF":0.001564,"AB5-UKF":0.001563,"AB6-UKF":0.001564},
    {"p":"i","t":40,"AB2-UKF":0.001563,"AB3-UKF":0.001563,"AB4-UKF":0.001564,"AB5-UKF":0.001563,"AB6-UKF":0.001564},
    {"p":"i","t":45,"AB2-UKF":0.001563,"AB3-UKF":0.001562,"AB4-UKF":0.001563,"AB5-UKF":0.001563,"AB6-UKF":0.001564},
    {"p":"i","t":50,"AB2-UKF":0.001563,"AB3-UKF":0.001562,"AB4-UKF":0.001563,"AB5-UKF":0.001563,"AB6-UKF":0.001565},
    {"p":"i","t":55,"AB2-UKF":0.001562,"AB3-UKF":0.00156,"AB4-UKF":0.001563,"AB5-UKF":0.001563,"AB6-UKF":0.001565},
    {"p":"i","t":60,"AB2-UKF":0.001562,"AB3-UKF":0.001561,"AB4-UKF":0.001564,"AB5-UKF":0.001563,"AB6-UKF":0.001565},
    {"p":"i","t":65,"AB2-UKF":0.001562,"AB3-UKF":0.001561,"AB4-UKF":0.001564,"AB5-UKF":0.001563,"AB6-UKF":0.001565},
    {"p":"i","t":70,"AB2-UKF":0.001562,"AB3-UKF":0.001562,"AB4-UKF":0.001564,"AB5-UKF":0.001563,"AB6-UKF":0.001565},
    {"p":"j","t":3,"AB2-UKF":0.0225,"AB3-UKF":0.0215,"AB4-UKF":0.0213,"AB5-UKF":0.0212,"AB6-UKF":0.0213},
    {"p":"j","t":4,"AB2-UKF":0.0215,"AB3-UKF":0.0206,"AB4-UKF":0.0201,"AB5-UKF":0.02,"AB6-UKF":0.0202},
    {"p":"j","t":5,"AB2-UKF":0.0206,"AB3-UKF":0.0198,"AB4-UKF":0.0194,"AB5-UKF":0.0193,"AB6-UKF":0.0197},
    {"p":"j","t":6,"AB2-UKF":0.0199,"AB3-UKF":0.0192,"AB4-UKF":0.0187,"AB5-UKF":0.0186,"AB6-UKF":0.0192},
    {"p":"j","t":7,"AB2-UKF":0.0193,"AB3-UKF":0.0187,"AB4-UKF":0.018,"AB5-UKF":0.0179,"AB6-UKF":0.01875},
    {"p":"j","t":8,"AB2-UKF":0.0188,"AB3-UKF":0.0182,"AB4-UKF":0.01745,"AB5-UKF":0.01735,"AB6-UKF":0.0183},
    {"p":"j","t":10,"AB2-UKF":0.018,"AB3-UKF":0.01745,"AB4-UKF":0.0168,"AB5-UKF":0.0167,"AB6-UKF":0.01755},
    {"p":"j","t":12,"AB2-UKF":0.0175,"AB3-UKF":0.01705,"AB4-UKF":0.01645,"AB5-UKF":0.0163,"AB6-UKF":0.0171},
    {"p":"j","t":15,"AB2-UKF":0.0169,"AB3-UKF":0.0166,"AB4-UKF":0.016,"AB5-UKF":0.0159,"AB6-UKF":0.0165},
    {"p":"j","t":17,"AB2-UKF":0.0166,"AB3-UKF":0.0164,"AB4-UKF":0.0158,"AB5-UKF":0.01572,"AB6-UKF":0.01635},
    {"p":"j","t":20,"AB2-UKF":0.0163,"AB3-UKF":0.0161,"AB4-UKF":0.0157,"AB5-UKF":0.01555,"AB6-UKF":0.0161},
    {"p":"j","t":25,"AB2-UKF":0.016,"AB3-UKF":0.01575,"AB4-UKF":0.0154,"AB5-UKF":0.0153,"AB6-UKF":0.0156},
    {"p":"j","t":30,"AB2-UKF":0.01573,"AB3-UKF":0.01555,"AB4-UKF":0.01525,"AB5-UKF":0.01512,"AB6-UKF":0.0154},
    {"p":"j","t":35,"AB2-UKF":0.0155,"AB3-UKF":0.0154,"AB4-UKF":0.01515,"AB5-UKF":0.01502,"AB6-UKF":0.01532},
    {"p":"j","t":40,"AB2-UKF":0.01533,"AB3-UKF":0.0153,"AB4-UKF":0.01505,"AB5-UKF":0.01492,"AB6-UKF":0.01525},
    {"p":"j","t":50,"AB2-UKF":0.01512,"AB3-UKF":0.01515,"AB4-UKF":0.0149,"AB5-UKF":0.01472,"AB6-UKF":0.0151},
    {"p":"j","t":60,"AB2-UKF":0.01498,"AB3-UKF":0.01505,"AB4-UKF":0.01476,"AB5-UKF":0.0146,"AB6-UKF":0.01495},
    {"p":"j","t":70,"AB2-UKF":0.0149,"AB3-UKF":0.01497,"AB4-UKF":0.01465,"AB5-UKF":0.01456,"AB6-UKF":0.01487},
    {"p":"k","t":3,"AB2-UKF":0.0215,"AB3-UKF":0.0217,"AB4-UKF":0.0216,"AB5-UKF":0.0206,"AB6-UKF":0.0217},
    {"p":"k","t":4,"AB2-UKF":0.0207,"AB3-UKF":0.0209,"AB4-UKF":0.0208,"AB5-UKF":0.0198,"AB6-UKF":0.0209},
    {"p":"k","t":5,"AB2-UKF":0.02,"AB3-UKF":0.0201,"AB4-UKF":0.0201,"AB5-UKF":0.0191,"AB6-UKF":0.0201},
    {"p":"k","t":6,"AB2-UKF":0.0193,"AB3-UKF":0.0196,"AB4-UKF":0.0194,"AB5-UKF":0.0181,"AB6-UKF":0.0195},
    {"p":"k","t":7,"AB2-UKF":0.0188,"AB3-UKF":0.0191,"AB4-UKF":0.0188,"AB5-UKF":0.0174,"AB6-UKF":0.019},
    {"p":"k","t":8,"AB2-UKF":0.0183,"AB3-UKF":0.0187,"AB4-UKF":0.0183,"AB5-UKF":0.0169,"AB6-UKF":0.0186},
    {"p":"k","t":10,"AB2-UKF":0.0175,"AB3-UKF":0.018,"AB4-UKF":0.0174,"AB5-UKF":0.0164,"AB6-UKF":0.0178},
    {"p":"k","t":12,"AB2-UKF":0.0169,"AB3-UKF":0.0174,"AB4-UKF":0.0168,"AB5-UKF":0.0161,"AB6-UKF":0.0172},
    {"p":"k","t":15,"AB2-UKF":0.0164,"AB3-UKF":0.0168,"AB4-UKF":0.0163,"AB5-UKF":0.01585,"AB6-UKF":0.0166},
    {"p":"k","t":17,"AB2-UKF":0.0162,"AB3-UKF":0.0165,"AB4-UKF":0.0161,"AB5-UKF":0.0156,"AB6-UKF":0.0163},
    {"p":"k","t":20,"AB2-UKF":0.01595,"AB3-UKF":0.0162,"AB4-UKF":0.0158,"AB5-UKF":0.0153,"AB6-UKF":0.0161},
    {"p":"k","t":25,"AB2-UKF":0.01568,"AB3-UKF":0.0158,"AB4-UKF":0.01555,"AB5-UKF":0.0151,"AB6-UKF":0.0157},
    {"p":"k","t":30,"AB2-UKF":0.01545,"AB3-UKF":0.01553,"AB4-UKF":0.0153,"AB5-UKF":0.01492,"AB6-UKF":0.01548},
    {"p":"k","t":35,"AB2-UKF":0.0153,"AB3-UKF":0.0154,"AB4-UKF":0.0152,"AB5-UKF":0.0148,"AB6-UKF":0.0153},
    {"p":"k","t":40,"AB2-UKF":0.0152,"AB3-UKF":0.0153,"AB4-UKF":0.0151,"AB5-UKF":0.0147,"AB6-UKF":0.0152},
    {"p":"k","t":50,"AB2-UKF":0.01502,"AB3-UKF":0.01506,"AB4-UKF":0.01488,"AB5-UKF":0.01462,"AB6-UKF":0.01502},
    {"p":"k","t":60,"AB2-UKF":0.01495,"AB3-UKF":0.015,"AB4-UKF":0.0148,"AB5-UKF":0.01452,"AB6-UKF":0.01495},
    {"p":"k","t":70,"AB2-UKF":0.01483,"AB3-UKF":0.01492,"AB4-UKF":0.01472,"AB5-UKF":0.01443,"AB6-UKF":0.01485},
    {"p":"l","t":3,"AB2-UKF":0.0224,"AB3-UKF":0.0224,"AB4-UKF":0.0225,"AB5-UKF":0.0205,"AB6-UKF":0.0215},
    {"p":"l","t":4,"AB2-UKF":0.0213,"AB3-UKF":0.0213,"AB4-UKF":0.0214,"AB5-UKF":0.0199,"AB6-UKF":0.0207},
    {"p":"l","t":5,"AB2-UKF":0.0205,"AB3-UKF":0.0205,"AB4-UKF":0.0206,"AB5-UKF":0.01944,"AB6-UKF":0.0199},
    {"p":"l","t":6,"AB2-UKF":0.0199,"AB3-UKF":0.0199,"AB4-UKF":0.02,"AB5-UKF":0.0188,"AB6-UKF":0.0188},
    {"p":"l","t":7,"AB2-UKF":0.0192,"AB3-UKF":0.0192,"AB4-UKF":0.0193,"AB5-UKF":0.0184,"AB6-UKF":0.0182},
    {"p":"l","t":8,"AB2-UKF":0.0186,"AB3-UKF":0.0187,"AB4-UKF":0.0188,"AB5-UKF":0.018,"AB6-UKF":0.0179},
    {"p":"l","t":10,"AB2-UKF":0.0177,"AB3-UKF":0.0178,"AB4-UKF":0.018,"AB5-UKF":0.0172,"AB6-UKF":0.01734},
    {"p":"l","t":12,"AB2-UKF":0.0172,"AB3-UKF":0.0173,"AB4-UKF":0.0175,"AB5-UKF":0.0166,"AB6-UKF":0.0169},
    {"p":"l","t":15,"AB2-UKF":0.0167,"AB3-UKF":0.0168,"AB4-UKF":0.0171,"AB5-UKF":0.016,"AB6-UKF":0.01655},
    {"p":"l","t":17,"AB2-UKF":0.0164,"AB3-UKF":0.0165,"AB4-UKF":0.0169,"AB5-UKF":0.0157,"AB6-UKF":0.0163},
    {"p":"l","t":20,"AB2-UKF":0.0162,"AB3-UKF":0.0163,"AB4-UKF":0.0167,"AB5-UKF":0.01548,"AB6-UKF":0.0161},
    {"p":"l","t":25,"AB2-UKF":0.0159,"AB3-UKF":0.0159,"AB4-UKF":0.0164,"AB5-UKF":0.0153,"AB6-UKF":0.0158},
    {"p":"l","t":30,"AB2-UKF":0.01565,"AB3-UKF":0.01575,"AB4-UKF":0.0161,"AB5-UKF":0.01515,"AB6-UKF":0.0155},
    {"p":"l","t":35,"AB2-UKF":0.0155,"AB3-UKF":0.0156,"AB4-UKF":0.0159,"AB5-UKF":0.01505,"AB6-UKF":0.0154},
    {"p":"l","t":40,"AB2-UKF":0.01533,"AB3-UKF":0.01545,"AB4-UKF":0.01573,"AB5-UKF":0.01488,"AB6-UKF":0.01527},
    {"p":"l","t":50,"AB2-UKF":0.01515,"AB3-UKF":0.01522,"AB4-UKF":0.01551,"AB5-UKF":0.01472,"AB6-UKF":0.01505},
    {"p":"l","t":60,"AB2-UKF":0.01502,"AB3-UKF":0.01505,"AB4-UKF":0.01538,"AB5-UKF":0.01455,"AB6-UKF":0.01496},
    {"p":"l","t":70,"AB2-UKF":0.01488,"AB3-UKF":0.0149,"AB4-UKF":0.01522,"AB5-UKF":0.0145,"AB6-UKF":0.01488}
  ]},
  "resolve": {"scale": {"color": "independent", "strokeDash": "independent"}, "legend": {"color": "independent", "strokeDash": "independent"}},
  "spacing": 4,
  "vconcat": [
    {
      "bounds": "flush",
      "spacing": 60,
      "resolve": {"scale": {"color": "independent", "strokeDash": "independent"}, "legend": {"color": "independent", "strokeDash": "independent"}},
      "hconcat": [
        {
          "width": 194, "height": 153,
          "title": {"text": "(a) Position 𝑥", "offset": 7},
          "transform": [{"filter": "datum.p == 'a'"}, {"fold": ["AB2-UKF", "AB3-UKF", "AB4-UKF", "AB5-UKF", "AB6-UKF"], "as": ["s", "v"]}],
          "mark": {"type": "line", "interpolate": "monotone", "clip": true},
          "encoding": {
            "x": {"field": "t", "type": "quantitative", "scale": {"domain": [0, 70], "nice": false}, "axis": {"values": [0, 10, 20, 30, 40, 50, 60, 70], "title": "Time [s]"}},
            "y": {"field": "v", "type": "quantitative", "scale": {"domain": [0.05, 0.15], "nice": false, "zero": false}, "axis": {"values": [0.05, 0.06, 0.07, 0.08, 0.09, 0.1, 0.11, 0.12, 0.13, 0.14, 0.15], "format": "~f", "title": "RMSE [m]"}},
            "color": {"field": "s", "type": "nominal", "scale": {"domain": ["AB2-UKF", "AB3-UKF", "AB4-UKF", "AB5-UKF", "AB6-UKF"], "range": ["#F5A25D", "#00B050", "#FF0000", "#1A7FD4", "#7B3FBF"]}, "legend": {"title": null, "orient": "top-right", "offset": 10, "labelExpr": "datum.label + '\u2800\u2800\u2800'"}},
            "strokeDash": {"field": "s", "type": "nominal", "scale": {"domain": ["AB2-UKF", "AB3-UKF", "AB4-UKF", "AB5-UKF", "AB6-UKF"], "range": [[1, 0], [2, 1], [4, 2, 1, 2], [7, 3], [8, 2, 2, 2]]}, "legend": {"title": null, "orient": "top-right", "offset": 10, "labelExpr": "datum.label + '\u2800\u2800\u2800'"}}
          }
        },
        {
          "width": 201, "height": 153,
          "title": {"text": "(b) Position 𝑦", "offset": 7},
          "transform": [{"filter": "datum.p == 'b'"}, {"fold": ["AB2-UKF", "AB3-UKF", "AB4-UKF", "AB5-UKF", "AB6-UKF"], "as": ["s", "v"]}],
          "mark": {"type": "line", "interpolate": "monotone", "clip": true},
          "encoding": {
            "x": {"field": "t", "type": "quantitative", "scale": {"domain": [0, 70], "nice": false}, "axis": {"values": [0, 10, 20, 30, 40, 50, 60, 70], "title": "Time [s]"}},
            "y": {"field": "v", "type": "quantitative", "scale": {"domain": [0.05, 0.15], "nice": false, "zero": false}, "axis": {"values": [0.05, 0.06, 0.07, 0.08, 0.09, 0.1, 0.11, 0.12, 0.13, 0.14, 0.15], "format": "~f", "title": "RMSE [m]"}},
            "color": {"field": "s", "type": "nominal", "scale": {"domain": ["AB2-UKF", "AB3-UKF", "AB4-UKF", "AB5-UKF", "AB6-UKF"], "range": ["#F5A25D", "#00B050", "#FF0000", "#1A7FD4", "#7B3FBF"]}, "legend": {"title": null, "orient": "top-right", "offset": 10, "labelExpr": "datum.label + '\u2800\u2800\u2800'"}},
            "strokeDash": {"field": "s", "type": "nominal", "scale": {"domain": ["AB2-UKF", "AB3-UKF", "AB4-UKF", "AB5-UKF", "AB6-UKF"], "range": [[1, 0], [2, 1], [4, 2, 1, 2], [7, 3], [8, 2, 2, 2]]}, "legend": {"title": null, "orient": "top-right", "offset": 10, "labelExpr": "datum.label + '\u2800\u2800\u2800'"}}
          }
        },
        {
          "width": 201, "height": 153,
          "title": {"text": "(c) Position 𝑧", "offset": 7},
          "transform": [{"filter": "datum.p == 'c'"}, {"fold": ["AB2-UKF", "AB3-UKF", "AB4-UKF", "AB5-UKF", "AB6-UKF"], "as": ["s", "v"]}],
          "mark": {"type": "line", "interpolate": "monotone", "clip": true},
          "encoding": {
            "x": {"field": "t", "type": "quantitative", "scale": {"domain": [0, 70], "nice": false}, "axis": {"values": [0, 10, 20, 30, 40, 50, 60, 70], "title": "Time [s]"}},
            "y": {"field": "v", "type": "quantitative", "scale": {"domain": [0.05, 0.15], "nice": false, "zero": false}, "axis": {"values": [0.05, 0.06, 0.07, 0.08, 0.09, 0.1, 0.11, 0.12, 0.13, 0.14, 0.15], "format": "~f", "title": "RMSE [m]"}},
            "color": {"field": "s", "type": "nominal", "scale": {"domain": ["AB2-UKF", "AB3-UKF", "AB4-UKF", "AB5-UKF", "AB6-UKF"], "range": ["#F5A25D", "#00B050", "#FF0000", "#1A7FD4", "#7B3FBF"]}, "legend": {"title": null, "orient": "top-right", "offset": 10, "labelExpr": "datum.label + '\u2800\u2800\u2800'"}},
            "strokeDash": {"field": "s", "type": "nominal", "scale": {"domain": ["AB2-UKF", "AB3-UKF", "AB4-UKF", "AB5-UKF", "AB6-UKF"], "range": [[1, 0], [2, 1], [4, 2, 1, 2], [7, 3], [8, 2, 2, 2]]}, "legend": {"title": null, "orient": "top-right", "offset": 10, "labelExpr": "datum.label + '\u2800\u2800\u2800'"}}
          }
        }
      ]
    },
    {
      "bounds": "flush",
      "spacing": 61,
      "resolve": {"scale": {"color": "independent", "strokeDash": "independent"}, "legend": {"color": "independent", "strokeDash": "independent"}},
      "hconcat": [
        {
          "width": 197, "height": 153,
          "title": {"text": "(d) Velocity 𝑥̇", "offset": 3},
          "transform": [{"filter": "datum.p == 'd'"}, {"fold": ["AB2-UKF", "AB3-UKF", "AB4-UKF", "AB5-UKF", "AB6-UKF"], "as": ["s", "v"]}],
          "mark": {"type": "line", "interpolate": "monotone", "clip": true},
          "encoding": {
            "x": {"field": "t", "type": "quantitative", "scale": {"domain": [0, 70], "nice": false}, "axis": {"values": [0, 10, 20, 30, 40, 50, 60, 70], "title": "Time [s]"}},
            "y": {"field": "v", "type": "quantitative", "scale": {"domain": [0, 0.3], "nice": false, "zero": false}, "axis": {"values": [0, 0.05, 0.1, 0.15, 0.2, 0.25, 0.3], "format": "~f", "title": "RMSE [m/s]"}},
            "color": {"field": "s", "type": "nominal", "scale": {"domain": ["AB2-UKF", "AB3-UKF", "AB4-UKF", "AB5-UKF", "AB6-UKF"], "range": ["#F5A25D", "#00B050", "#FF0000", "#1A7FD4", "#7B3FBF"]}, "legend": {"title": null, "orient": "none", "legendX": 111, "legendY": 9, "labelExpr": "datum.label + '\u2800'"}},
            "strokeDash": {"field": "s", "type": "nominal", "scale": {"domain": ["AB2-UKF", "AB3-UKF", "AB4-UKF", "AB5-UKF", "AB6-UKF"], "range": [[1, 0], [2, 1], [4, 2, 1, 2], [7, 3], [8, 2, 2, 2]]}, "legend": {"title": null, "orient": "none", "legendX": 111, "legendY": 9, "labelExpr": "datum.label + '\u2800'"}}
          }
        },
        {
          "width": 200, "height": 153,
          "title": {"text": "(e) Velocity 𝑦̇", "offset": 3},
          "transform": [{"filter": "datum.p == 'e'"}, {"fold": ["AB2-UKF", "AB3-UKF", "AB4-UKF", "AB5-UKF", "AB6-UKF"], "as": ["s", "v"]}],
          "mark": {"type": "line", "interpolate": "monotone", "clip": true},
          "encoding": {
            "x": {"field": "t", "type": "quantitative", "scale": {"domain": [0, 70], "nice": false}, "axis": {"values": [0, 10, 20, 30, 40, 50, 60, 70], "title": "Time [s]"}},
            "y": {"field": "v", "type": "quantitative", "scale": {"domain": [0, 0.3], "nice": false, "zero": false}, "axis": {"values": [0, 0.05, 0.1, 0.15, 0.2, 0.25, 0.3], "format": "~f", "title": "RMSE [m/s]"}},
            "color": {"field": "s", "type": "nominal", "scale": {"domain": ["AB2-UKF", "AB3-UKF", "AB4-UKF", "AB5-UKF", "AB6-UKF"], "range": ["#F5A25D", "#00B050", "#FF0000", "#1A7FD4", "#7B3FBF"]}, "legend": {"title": null, "orient": "none", "legendX": 113, "legendY": 9, "labelExpr": "datum.label + '\u2800'"}},
            "strokeDash": {"field": "s", "type": "nominal", "scale": {"domain": ["AB2-UKF", "AB3-UKF", "AB4-UKF", "AB5-UKF", "AB6-UKF"], "range": [[1, 0], [2, 1], [4, 2, 1, 2], [7, 3], [8, 2, 2, 2]]}, "legend": {"title": null, "orient": "none", "legendX": 113, "legendY": 9, "labelExpr": "datum.label + '\u2800'"}}
          }
        },
        {
          "width": 201, "height": 153,
          "title": {"text": "(f) Velocity 𝑧̇", "offset": 3},
          "transform": [{"filter": "datum.p == 'f'"}, {"fold": ["AB2-UKF", "AB3-UKF", "AB4-UKF", "AB5-UKF", "AB6-UKF"], "as": ["s", "v"]}],
          "mark": {"type": "line", "interpolate": "monotone", "clip": true},
          "encoding": {
            "x": {"field": "t", "type": "quantitative", "scale": {"domain": [0, 70], "nice": false}, "axis": {"values": [0, 10, 20, 30, 40, 50, 60, 70], "title": "Time [s]"}},
            "y": {"field": "v", "type": "quantitative", "scale": {"domain": [0, 0.3], "nice": false, "zero": false}, "axis": {"values": [0, 0.05, 0.1, 0.15, 0.2, 0.25, 0.3], "format": "~f", "title": "RMSE [m/s]"}},
            "color": {"field": "s", "type": "nominal", "scale": {"domain": ["AB2-UKF", "AB3-UKF", "AB4-UKF", "AB5-UKF", "AB6-UKF"], "range": ["#F5A25D", "#00B050", "#FF0000", "#1A7FD4", "#7B3FBF"]}, "legend": {"title": null, "orient": "none", "legendX": 115, "legendY": 9, "labelExpr": "datum.label + '\u2800'"}},
            "strokeDash": {"field": "s", "type": "nominal", "scale": {"domain": ["AB2-UKF", "AB3-UKF", "AB4-UKF", "AB5-UKF", "AB6-UKF"], "range": [[1, 0], [2, 1], [4, 2, 1, 2], [7, 3], [8, 2, 2, 2]]}, "legend": {"title": null, "orient": "none", "legendX": 115, "legendY": 9, "labelExpr": "datum.label + '\u2800'"}}
          }
        }
      ]
    },
    {
      "bounds": "flush",
      "spacing": 75,
      "resolve": {"scale": {"color": "independent", "strokeDash": "independent"}, "legend": {"color": "independent", "strokeDash": "independent"}},
      "hconcat": [
        {
          "width": 194, "height": 153,
          "title": {"text": "(g) Attitude angle 𝜙", "offset": 7},
          "transform": [{"filter": "datum.p == 'g'"}, {"fold": ["AB2-UKF", "AB3-UKF", "AB4-UKF", "AB5-UKF", "AB6-UKF"], "as": ["s", "v"]}],
          "mark": {"type": "line", "interpolate": "linear", "clip": true},
          "encoding": {
            "x": {"field": "t", "type": "quantitative", "scale": {"domain": [0, 70], "nice": false}, "axis": {"values": [0, 10, 20, 30, 40, 50, 60, 70], "title": "Time [s]"}},
            "y": {"field": "v", "type": "quantitative", "scale": {"domain": [0.0015, 0.0016], "nice": false, "zero": false}, "axis": {"values": [0.0015, 0.00151, 0.00152, 0.00153, 0.00154, 0.00155, 0.00156, 0.00157, 0.00158, 0.00159, 0.0016], "format": "~f", "title": "RMSE [rad]", "labelPadding": 3}},
            "color": {"field": "s", "type": "nominal", "scale": {"domain": ["AB2-UKF", "AB3-UKF", "AB4-UKF", "AB5-UKF", "AB6-UKF"], "range": ["#F5A25D", "#00B050", "#FF0000", "#1A7FD4", "#7B3FBF"]}, "legend": {"title": null, "orient": "bottom-right", "offset": 10, "labelExpr": "datum.label + '\u2800\u2800\u2800'"}},
            "strokeDash": {"field": "s", "type": "nominal", "scale": {"domain": ["AB2-UKF", "AB3-UKF", "AB4-UKF", "AB5-UKF", "AB6-UKF"], "range": [[1, 0], [2, 1], [4, 2, 1, 2], [7, 3], [8, 2, 2, 2]]}, "legend": {"title": null, "orient": "bottom-right", "offset": 10, "labelExpr": "datum.label + '\u2800\u2800\u2800'"}}
          }
        },
        {
          "width": 186, "height": 153,
          "title": {"text": "(h) Attitude angle 𝜃", "offset": 7},
          "transform": [{"filter": "datum.p == 'h'"}, {"fold": ["AB2-UKF", "AB3-UKF", "AB4-UKF", "AB5-UKF", "AB6-UKF"], "as": ["s", "v"]}],
          "mark": {"type": "line", "interpolate": "linear", "clip": true},
          "encoding": {
            "x": {"field": "t", "type": "quantitative", "scale": {"domain": [0, 70], "nice": false}, "axis": {"values": [0, 10, 20, 30, 40, 50, 60, 70], "title": "Time [s]"}},
            "y": {"field": "v", "type": "quantitative", "scale": {"domain": [0.0015, 0.0016], "nice": false, "zero": false}, "axis": {"values": [0.0015, 0.00151, 0.00152, 0.00153, 0.00154, 0.00155, 0.00156, 0.00157, 0.00158, 0.00159, 0.0016], "format": "~f", "title": "RMSE [rad]", "labelPadding": 5}},
            "color": {"field": "s", "type": "nominal", "scale": {"domain": ["AB2-UKF", "AB3-UKF", "AB4-UKF", "AB5-UKF", "AB6-UKF"], "range": ["#F5A25D", "#00B050", "#FF0000", "#1A7FD4", "#7B3FBF"]}, "legend": {"title": null, "orient": "bottom-right", "offset": 10, "labelExpr": "datum.label + '\u2800\u2800\u2800'"}},
            "strokeDash": {"field": "s", "type": "nominal", "scale": {"domain": ["AB2-UKF", "AB3-UKF", "AB4-UKF", "AB5-UKF", "AB6-UKF"], "range": [[1, 0], [2, 1], [4, 2, 1, 2], [7, 3], [8, 2, 2, 2]]}, "legend": {"title": null, "orient": "bottom-right", "offset": 10, "labelExpr": "datum.label + '\u2800\u2800\u2800'"}}
          }
        },
        {
          "width": 186, "height": 153,
          "title": {"text": "(i) Attitude angle 𝜓", "offset": 7},
          "transform": [{"filter": "datum.p == 'i'"}, {"fold": ["AB2-UKF", "AB3-UKF", "AB4-UKF", "AB5-UKF", "AB6-UKF"], "as": ["s", "v"]}],
          "mark": {"type": "line", "interpolate": "linear", "clip": true},
          "encoding": {
            "x": {"field": "t", "type": "quantitative", "scale": {"domain": [0, 70], "nice": false}, "axis": {"values": [0, 10, 20, 30, 40, 50, 60, 70], "title": "Time [s]"}},
            "y": {"field": "v", "type": "quantitative", "scale": {"domain": [0.0015, 0.0016], "nice": false, "zero": false}, "axis": {"values": [0.0015, 0.00151, 0.00152, 0.00153, 0.00154, 0.00155, 0.00156, 0.00157, 0.00158, 0.00159, 0.0016], "format": "~f", "title": "RMSE [rad]", "labelPadding": 5}},
            "color": {"field": "s", "type": "nominal", "scale": {"domain": ["AB2-UKF", "AB3-UKF", "AB4-UKF", "AB5-UKF", "AB6-UKF"], "range": ["#F5A25D", "#00B050", "#FF0000", "#1A7FD4", "#7B3FBF"]}, "legend": {"title": null, "orient": "bottom-right", "offset": 10, "labelExpr": "datum.label + '\u2800\u2800\u2800'"}},
            "strokeDash": {"field": "s", "type": "nominal", "scale": {"domain": ["AB2-UKF", "AB3-UKF", "AB4-UKF", "AB5-UKF", "AB6-UKF"], "range": [[1, 0], [2, 1], [4, 2, 1, 2], [7, 3], [8, 2, 2, 2]]}, "legend": {"title": null, "orient": "bottom-right", "offset": 10, "labelExpr": "datum.label + '\u2800\u2800\u2800'"}}
          }
        }
      ]
    },
    {
      "bounds": "flush",
      "spacing": 67,
      "resolve": {"scale": {"color": "independent", "strokeDash": "independent"}, "legend": {"color": "independent", "strokeDash": "independent"}},
      "hconcat": [
        {
          "width": 193, "height": 153,
          "title": {"text": "(j) Attitude angular velocity 𝜙̇", "offset": 17},
          "transform": [{"filter": "datum.p == 'j'"}, {"fold": ["AB2-UKF", "AB3-UKF", "AB4-UKF", "AB5-UKF", "AB6-UKF"], "as": ["s", "v"]}],
          "mark": {"type": "line", "interpolate": "monotone", "clip": true},
          "encoding": {
            "x": {"field": "t", "type": "quantitative", "scale": {"domain": [0, 70], "nice": false}, "axis": {"values": [0, 10, 20, 30, 40, 50, 60, 70], "title": "Time [s]"}},
            "y": {"field": "v", "type": "quantitative", "scale": {"domain": [0.014, 0.02], "nice": false, "zero": false}, "axis": {"values": [0.014, 0.015, 0.016, 0.017, 0.018, 0.019, 0.02], "format": "~f", "title": "RMSE [rad/s]"}},
            "color": {"field": "s", "type": "nominal", "scale": {"domain": ["AB2-UKF", "AB3-UKF", "AB4-UKF", "AB5-UKF", "AB6-UKF"], "range": ["#F5A25D", "#00B050", "#FF0000", "#1A7FD4", "#7B3FBF"]}, "legend": {"title": null, "orient": "none", "legendX": 108, "legendY": 10, "labelExpr": "datum.label + '\u2800'"}},
            "strokeDash": {"field": "s", "type": "nominal", "scale": {"domain": ["AB2-UKF", "AB3-UKF", "AB4-UKF", "AB5-UKF", "AB6-UKF"], "range": [[1, 0], [2, 1], [4, 2, 1, 2], [7, 3], [8, 2, 2, 2]]}, "legend": {"title": null, "orient": "none", "legendX": 108, "legendY": 10, "labelExpr": "datum.label + '\u2800'"}}
          }
        },
        {
          "width": 195, "height": 153,
          "title": {"text": "(k) Attitude angular velocity 𝜃̇", "offset": 17},
          "transform": [{"filter": "datum.p == 'k'"}, {"fold": ["AB2-UKF", "AB3-UKF", "AB4-UKF", "AB5-UKF", "AB6-UKF"], "as": ["s", "v"]}],
          "mark": {"type": "line", "interpolate": "monotone", "clip": true},
          "encoding": {
            "x": {"field": "t", "type": "quantitative", "scale": {"domain": [0, 70], "nice": false}, "axis": {"values": [0, 10, 20, 30, 40, 50, 60, 70], "title": "Time [s]"}},
            "y": {"field": "v", "type": "quantitative", "scale": {"domain": [0.014, 0.02], "nice": false, "zero": false}, "axis": {"values": [0.014, 0.015, 0.016, 0.017, 0.018, 0.019, 0.02], "format": "~f", "title": "RMSE [rad/s]"}},
            "color": {"field": "s", "type": "nominal", "scale": {"domain": ["AB2-UKF", "AB3-UKF", "AB4-UKF", "AB5-UKF", "AB6-UKF"], "range": ["#F5A25D", "#00B050", "#FF0000", "#1A7FD4", "#7B3FBF"]}, "legend": {"title": null, "orient": "none", "legendX": 108, "legendY": 10, "labelExpr": "datum.label + '\u2800'"}},
            "strokeDash": {"field": "s", "type": "nominal", "scale": {"domain": ["AB2-UKF", "AB3-UKF", "AB4-UKF", "AB5-UKF", "AB6-UKF"], "range": [[1, 0], [2, 1], [4, 2, 1, 2], [7, 3], [8, 2, 2, 2]]}, "legend": {"title": null, "orient": "none", "legendX": 108, "legendY": 10, "labelExpr": "datum.label + '\u2800'"}}
          }
        },
        {
          "width": 195, "height": 153,
          "title": {"text": "(l) Attitude angular velocity 𝜓̇", "offset": 17},
          "transform": [{"filter": "datum.p == 'l'"}, {"fold": ["AB2-UKF", "AB3-UKF", "AB4-UKF", "AB5-UKF", "AB6-UKF"], "as": ["s", "v"]}],
          "mark": {"type": "line", "interpolate": "monotone", "clip": true},
          "encoding": {
            "x": {"field": "t", "type": "quantitative", "scale": {"domain": [0, 70], "nice": false}, "axis": {"values": [0, 10, 20, 30, 40, 50, 60, 70], "title": "Time [s]"}},
            "y": {"field": "v", "type": "quantitative", "scale": {"domain": [0.014, 0.02], "nice": false, "zero": false}, "axis": {"values": [0.014, 0.015, 0.016, 0.017, 0.018, 0.019, 0.02], "format": "~f", "title": "RMSE [rad/s]"}},
            "color": {"field": "s", "type": "nominal", "scale": {"domain": ["AB2-UKF", "AB3-UKF", "AB4-UKF", "AB5-UKF", "AB6-UKF"], "range": ["#F5A25D", "#00B050", "#FF0000", "#1A7FD4", "#7B3FBF"]}, "legend": {"title": null, "orient": "none", "legendX": 108, "legendY": 10, "labelExpr": "datum.label + '\u2800'"}},
            "strokeDash": {"field": "s", "type": "nominal", "scale": {"domain": ["AB2-UKF", "AB3-UKF", "AB4-UKF", "AB5-UKF", "AB6-UKF"], "range": [[1, 0], [2, 1], [4, 2, 1, 2], [7, 3], [8, 2, 2, 2]]}, "legend": {"title": null, "orient": "none", "legendX": 108, "legendY": 10, "labelExpr": "datum.label + '\u2800'"}}
          }
        }
      ]
    }
  ]
}
